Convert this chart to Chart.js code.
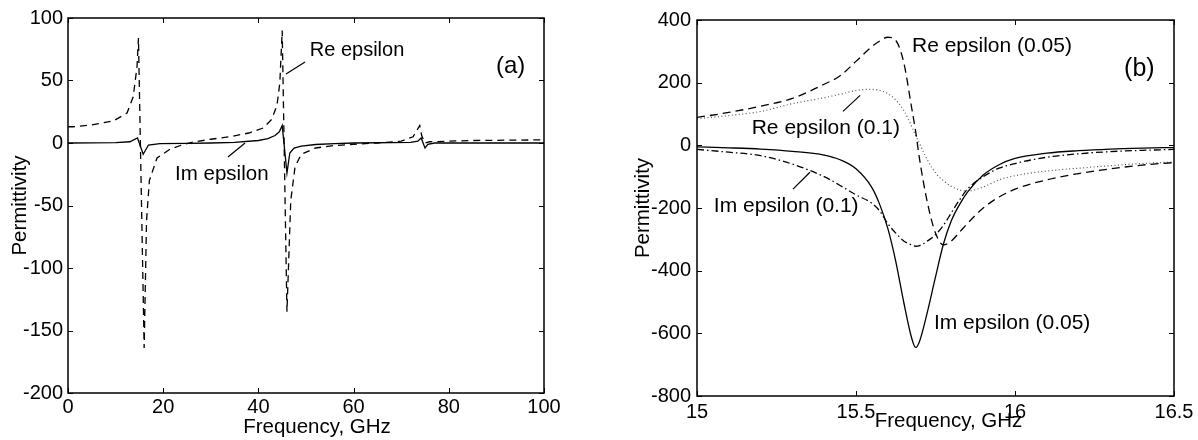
<!DOCTYPE html>
<html><head><meta charset="utf-8">
<script src="https://cdn.jsdelivr.net/npm/chart.js@4.4.0/dist/chart.umd.min.js"></script>
<style>
html,body{margin:0;padding:0;background:#fff;width:1198px;height:440px;overflow:hidden}
#ca{position:absolute;left:0;top:0}
#cb{position:absolute;left:600px;top:0}
</style></head><body>
<canvas id="ca" width="590" height="440"></canvas>
<canvas id="cb" width="598" height="440"></canvas>
<script>
// ---------- Panel (a) data ----------
const freqARe = [0,1,5,9.5,12.4,13.7,14.5,14.8,16.0,16.5,17.1,18.7,21.4,24,26,30,34,38,41,42.8,43.9,44.5,45.0,46.0,46.8,47.7,49,52,56,60,65,70,72.5,73.9,74.3,75,76,85,100];
const reA     = [13,13,14.5,17.6,24,37,61,84,-164,-62,-30,-12,-5,-1.5,0.5,3,5,8,12,19,30,48,90,-135,-46,-19,-9,-4,-2,-1,0,1.5,5,14,6,0,1,2,2.5];
const freqAIm = [0,10,13,14.6,15.8,16.9,19.3,25,30,35,40,42,43.5,44.4,45.0,46.0,46.6,47.5,49,52,56,60,72,73.5,74.2,75.0,75.6,77,100];
const imA     = [0,0.3,1,4,-9,-1.6,-0.5,-0.3,0,0.5,2,3.5,6,9,14,-24,-8,-4,-2.5,-1.2,-0.5,0,0.5,1.5,4,-4,-1,0,0];
const xTicksA = [0,20,40,60,80,100];
const xLabelsA = ['0','20','40','60','80','100'];
const yTicksA = [-200,-150,-100,-50,0,50,100];
const yLabelsA = ['-200','-150','-100','-50','0','50','100'];

// ---------- Panel (b) data ----------
const freqB  = [15.0,15.1,15.2,15.3,15.4,15.45,15.5,15.55,15.575,15.6,15.625,15.65,15.675,15.6875,15.7,15.725,15.75,15.775,15.8,15.825,15.85,15.9,15.95,16.0,16.1,16.2,16.3,16.4,16.5];
const reB005 = [89,105,125,150,195,222,268,315,333,345,335,265,120,45,-45,-185,-280,-318,-305,-278,-250,-200,-165,-140,-110,-90,-75,-63,-55];
const reB01  = [85,95,108,133,152,163,175,179,175,165,145,112,60,32,5,-48,-88,-113,-131,-142,-146,-133,-110,-97,-82,-73,-65,-58,-53];
const imB005 = [-5,-8,-12,-19,-31,-46,-75,-135,-190,-265,-370,-500,-615,-645,-625,-530,-420,-315,-240,-190,-150,-95,-62,-42,-25,-17,-12,-9,-7];
const imB01  = [-13,-22,-33,-60,-100,-128,-158,-185,-210,-250,-280,-305,-318,-322,-320,-305,-285,-255,-215,-175,-140,-100,-73,-58,-38,-27,-20,-16,-13];
const xTicksB = [15,15.5,16,16.5];
const xLabelsB = ['15','15.5','16','16.5'];
const yTicksB = [-800,-600,-400,-200,0,200,400];
const yLabelsB = ['-800','-600','-400','-200','0','200','400'];

const FONT = '"Liberation Sans", Arial, Helvetica, sans-serif';
const pts = (xs, ys) => xs.map((x, i) => ({x, y: ys[i]}));

function makeDecor(c) {
  return {
    id: 'decor_' + c.name,
    afterDatasetsDraw(chart) {
      const {ctx, chartArea: a, scales: {x, y}} = chart;
      ctx.save();
      ctx.setLineDash([]);
      ctx.strokeStyle = '#000';
      ctx.lineWidth = 1.5;
      ctx.strokeRect(a.left, a.top, a.right - a.left, a.bottom - a.top);
      ctx.lineWidth = 1;
      const TL = 5;
      ctx.beginPath();
      for (const t of x.ticks) {
        const p = Math.round(x.getPixelForValue(t.value)) + 0.5;
        ctx.moveTo(p, a.bottom); ctx.lineTo(p, a.bottom - TL);
        ctx.moveTo(p, a.top); ctx.lineTo(p, a.top + TL);
      }
      for (const t of y.ticks) {
        const p = Math.round(y.getPixelForValue(t.value)) + 0.5;
        ctx.moveTo(a.left, p); ctx.lineTo(a.left + TL, p);
        ctx.moveTo(a.right, p); ctx.lineTo(a.right - TL, p);
      }
      ctx.stroke();
      // leader lines
      ctx.lineWidth = 1.2;
      ctx.beginPath();
      for (const L of c.leaders) {
        ctx.moveTo(x.getPixelForValue(L[0]), y.getPixelForValue(L[1]));
        ctx.lineTo(x.getPixelForValue(L[2]), y.getPixelForValue(L[3]));
      }
      ctx.stroke();
      // annotation texts
      ctx.fillStyle = '#000';
      ctx.textBaseline = 'alphabetic';
      ctx.textAlign = 'left';
      for (const T of c.texts) {
        ctx.font = T.size + 'px ' + FONT;
        ctx.fillText(T.text, x.getPixelForValue(T.x), y.getPixelForValue(T.y));
      }
      // axis titles
      ctx.font = c.titleSize + 'px ' + FONT;
      ctx.textAlign = 'center';
      ctx.fillText(c.xTitle, (a.left + a.right) / 2 + c.xTitleDx, c.xTitleY);
      ctx.translate(c.yTitleX, (a.top + a.bottom) / 2);
      ctx.rotate(-Math.PI / 2);
      ctx.textBaseline = 'middle';
      ctx.fillText(c.yTitle, 0, 0);
      ctx.restore();
    }
  };
}

function makeChart(id, c, datasets) {
  return new Chart(document.getElementById(id), {
    type: 'line',
    data: {datasets},
    options: {
      responsive: false, animation: false, devicePixelRatio: 1,
      layout: {padding: c.pad},
      plugins: {legend: {display: false}, tooltip: {enabled: false}},
      elements: {point: {radius: 0}, line: {tension: 0}},
      scales: {
        x: {
          type: 'linear', min: c.xmin, max: c.xmax,
          afterBuildTicks: s => { s.ticks = c.xticks.map(v => ({value: v})); },
          afterFit: s => { s.height = c.xh; },
          grid: {display: false, drawTicks: false}, border: {display: false},
          ticks: {autoSkip: false, maxRotation: 0, padding: c.xpad, color: '#000',
            font: {family: FONT, size: 20},
            callback: v => c.xlabels[c.xticks.indexOf(v)]}
        },
        y: {
          type: 'linear', min: c.ymin, max: c.ymax,
          afterBuildTicks: s => { s.ticks = c.yticks.map(v => ({value: v})); },
          afterFit: s => { s.width = c.yw; },
          grid: {display: false, drawTicks: false}, border: {display: false},
          ticks: {autoSkip: false, padding: c.ypad, color: '#000',
            font: {family: FONT, size: 20},
            callback: v => c.ylabels[c.yticks.indexOf(v)]}
        }
      }
    },
    plugins: [makeDecor(c)]
  });
}

const lineBase = {pointRadius: 0, borderColor: '#000', borderWidth: 1.3, fill: false};
const smooth = {cubicInterpolationMode: 'monotone'};

makeChart('ca', {
  name: 'a', xmin: 0, xmax: 100, ymin: -200, ymax: 100,
  xticks: xTicksA, xlabels: xLabelsA, yticks: yTicksA, ylabels: yLabelsA,
  pad: {left: 0, top: 18, right: 46, bottom: 0}, xh: 47, yw: 68, xpad: 2, ypad: 5,
  xTitle: 'Frequency, GHz', yTitle: 'Permittivity', titleSize: 20.5,
  xTitleDx: 11, xTitleY: 433, yTitleX: 20,
  leaders: [[45.8, 55.2, 49.8, 64.8], [33.6, -11.2, 37.2, 0]],
  texts: [
    {text: 'Re epsilon', x: 50.8, y: 69.6, size: 20},
    {text: 'Im epsilon', x: 22.5, y: -29.6, size: 20.5},
    {text: '(a)', x: 89.9, y: 56, size: 24}
  ]
}, [
  {...lineBase, data: pts(freqARe, reA), borderDash: [7, 5]},
  {...lineBase, data: pts(freqAIm, imA)}
]);

makeChart('cb', {
  name: 'b', xmin: 15, xmax: 16.5, ymin: -800, ymax: 400,
  xticks: xTicksB, xlabels: xLabelsB, yticks: yTicksB, ylabels: yLabelsB,
  pad: {left: 0, top: 20, right: 24, bottom: 0}, xh: 44, yw: 97, xpad: 4, ypad: 6,
  xTitle: 'Frequency, GHz', yTitle: 'Permittivity', titleSize: 20.5,
  xTitleDx: 13, xTitleY: 427, yTitleX: 43,
  leaders: [[15.459, 108.5, 15.513, 159.6], [15.302, -140, 15.355, -86]],
  texts: [
    {text: 'Re epsilon (0.05)', x: 15.676, y: 297, size: 21},
    {text: 'Re epsilon (0.1)', x: 15.172, y: 35, size: 21},
    {text: 'Im epsilon (0.1)', x: 15.053, y: -214, size: 21},
    {text: 'Im epsilon (0.05)', x: 15.745, y: -587, size: 21},
    {text: '(b)', x: 16.343, y: 220, size: 25}
  ]
}, [
  {...lineBase, ...smooth, data: pts(freqB, reB005), borderDash: [8, 5]},
  {...lineBase, ...smooth, data: pts(freqB, reB01), borderDash: [1, 2.5], borderColor: '#555', borderWidth: 1.2},
  {...lineBase, ...smooth, data: pts(freqB, imB005)},
  {...lineBase, ...smooth, data: pts(freqB, imB01), borderDash: [7, 3, 1.5, 3]}
]);
</script>
</body></html>
